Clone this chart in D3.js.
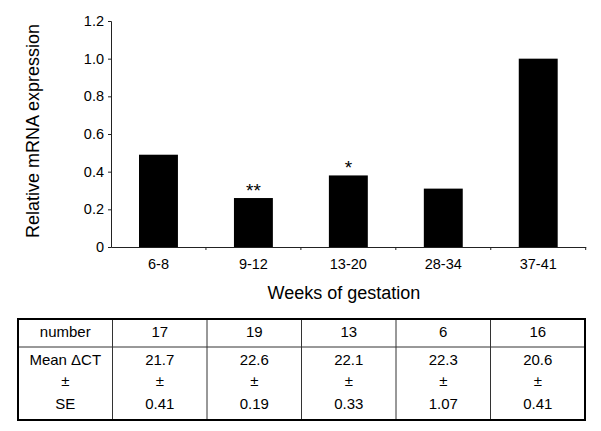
<!DOCTYPE html>
<html>
<head>
<meta charset="utf-8">
<script src="https://cdn.jsdelivr.net/npm/d3@7"></script>
<style>
  html, body { margin: 0; padding: 0; background: #fff; }
  svg { display: block; font-family: "Liberation Sans", Arial, sans-serif; }
</style>
</head>
<body>
<svg id="chart" width="601" height="431"></svg>
<script>
// ---- data ----
const categories = ["6-8", "9-12", "13-20", "28-34", "37-41"];
const expression = [0.49, 0.26, 0.38, 0.31, 1.0];
const significance = ["", "**", "*", "", ""];
const yTicks = [0, 0.2, 0.4, 0.6, 0.8, 1.0, 1.2];
const numberRow = ["17", "19", "13", "6", "16"];
const meanCT = ["21.7", "22.6", "22.1", "22.3", "20.6"];
const seValues = ["0.41", "0.19", "0.33", "1.07", "0.41"];
const rowLabels = ["number", "Mean \u0394CT", "\u00b1", "SE"];

const svg = d3.select("#chart");

// ---- scales ----
const x = d3.scaleBand().domain(categories).range([111, 585.7]).padding(0);
const y = d3.scaleLinear().domain([0, 1.2]).range([247, 21]);
const bw = x.bandwidth();

// ---- bars ----
svg.append("g").selectAll("rect")
  .data(categories)
  .join("rect")
  .attr("x", (d) => x(d) + bw * 0.295)
  .attr("width", bw * 0.41)
  .attr("y", (d, i) => y(expression[i]))
  .attr("height", (d, i) => y(0) - y(expression[i]))
  .attr("fill", "#000");

// significance stars
svg.append("g").selectAll("text")
  .data(categories)
  .join("text")
  .attr("x", (d) => x(d) + bw / 2)
  .attr("y", (d, i) => y(expression[i]) - 1)
  .attr("text-anchor", "middle")
  .attr("font-size", 19)
  .text((d, i) => significance[i]);

// ---- y axis ----
const yAxis = svg.append("g")
  .attr("transform", "translate(111,0)")
  .call(d3.axisLeft(y).tickValues(yTicks).tickSize(3).tickPadding(4)
    .tickFormat((d) => d === 0 ? "0" : d3.format(".1f")(d)));
yAxis.selectAll("text").attr("font-size", 14.5).attr("fill", "#000")
  .style("font-family", "Liberation Sans, Arial, sans-serif");
yAxis.selectAll("line, path").attr("stroke", "#222");

// ---- x axis ----
const xAxis = svg.append("g")
  .attr("transform", "translate(0,247)")
  .call(d3.axisBottom(x).tickSize(0).tickPadding(12));
xAxis.select(".domain").attr("stroke", "#222");
xAxis.selectAll("text").attr("font-size", 14.5).attr("fill", "#000")
  .style("font-family", "Liberation Sans, Arial, sans-serif");
// ticks at category boundaries
xAxis.append("g").selectAll("line")
  .data(categories)
  .join("line")
  .attr("x1", (d) => x(d) + bw).attr("x2", (d) => x(d) + bw)
  .attr("y1", 0).attr("y2", 3)
  .attr("stroke", "#222");

// axis titles
svg.append("text")
  .attr("x", 344).attr("y", 299)
  .attr("text-anchor", "middle")
  .attr("font-size", 18)
  .text("Weeks of gestation");
svg.append("text")
  .attr("transform", "translate(39,131) rotate(-90)")
  .attr("text-anchor", "middle")
  .attr("font-size", 18)
  .text("Relative mRNA expression");

// ---- table ----
const tX = d3.scaleLinear().domain([0, 6]).range([18, 585]);
const tblTop = 319, tblMid = 347, tblBottom = 420;
const tbl = svg.append("g");
d3.range(1, 6).forEach((i) => {
  tbl.append("line").attr("x1", tX(i)).attr("x2", tX(i))
    .attr("y1", tblTop).attr("y2", tblBottom).attr("stroke", "#333").attr("stroke-width", 1);
});
tbl.append("line").attr("x1", tX(0)).attr("x2", tX(6))
  .attr("y1", tblMid).attr("y2", tblMid).attr("stroke", "#333").attr("stroke-width", 1);
tbl.append("rect").attr("x", tX(0)).attr("y", tblTop)
  .attr("width", tX(6) - tX(0)).attr("height", tblBottom - tblTop)
  .attr("fill", "none").attr("stroke", "#000").attr("stroke-width", 2);

const rowsY = [332, 360, 381, 404];
function cell(col, yy, txt) {
  tbl.append("text")
    .attr("x", (tX(col) + tX(col + 1)) / 2)
    .attr("y", yy)
    .attr("dy", "0.36em")
    .attr("text-anchor", "middle")
    .attr("font-size", 15)
    .text(txt);
}
rowLabels.forEach((l, r) => cell(0, rowsY[r], l));
categories.forEach((c, i) => {
  cell(i + 1, rowsY[0], numberRow[i]);
  cell(i + 1, rowsY[1], meanCT[i]);
  cell(i + 1, rowsY[2], "\u00b1");
  cell(i + 1, rowsY[3], seValues[i]);
});
</script>
</body>
</html>
